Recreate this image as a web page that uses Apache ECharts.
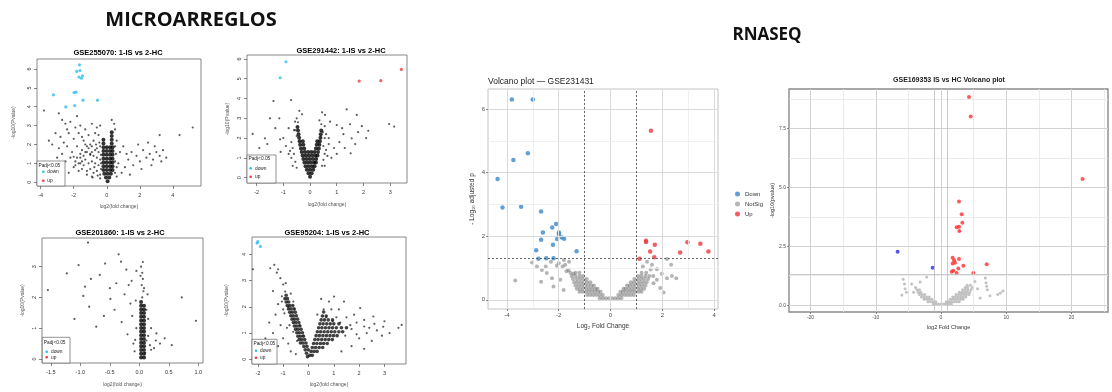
<!DOCTYPE html>
<html><head><meta charset="utf-8">
<script src="https://cdn.jsdelivr.net/npm/echarts@6/dist/echarts.min.js"></script>
<style>html,body{margin:0;padding:0;background:#fff}#c{width:1112px;height:392px}</style>
</head><body><div id="c"></div>
<script>
// ================= DATA =================
const headingLeft = 'MICROARREGLOS';
const headingRight = 'RNASEQ';

// ---- Plot 1: GSE255070 ----
const p1Title = 'GSE255070: 1-IS vs 2-HC';
const p1XTicks = [-4, -2, 0, 2, 4];
const p1YTicks = [0, 1, 2, 3, 4, 5, 6];
const p1Down = [[-1.65,6.22],[-1.82,5.87],[-1.62,5.92],[-1.68,5.57],[-1.47,5.64],[-1.53,5.51],[-3.23,4.63],[-1.98,4.75],[-1.86,4.77],[-1.44,4.35],[-0.56,4.35],[-2.48,3.99],[-1.94,4.06]];
const p1Up = [];
const p1Ns = [[-3.8,3.8],[-2.9,3.65],[-2.7,3.3],[-2.5,3.1],[-3.1,2.6],[-2.8,2.4],[-2.2,3.2],[-1.8,3.5],[-1.6,3.0],[-1.3,2.8],[-0.9,3.1],[-0.6,2.9],[-3.3,2.0],[-2.9,1.8],[-2.6,2.1],[-2.3,2.6],[-2.0,2.3],[-1.7,2.6],[-1.4,2.2],[-1.1,2.5],[-0.8,2.2],[-0.5,2.5],[-3.0,1.3],[-2.7,1.5],[-2.4,1.9],[-2.1,1.6],[-1.8,1.9],[-1.5,1.7],[-1.2,1.9],[-0.9,1.6],[-0.6,1.8],[-3.4,1.0],[-2.5,1.1],[-2.2,1.3],[-1.9,1.1],[-1.6,1.3],[-2.0,0.8],[-1.7,0.6],[-1.4,0.9],[-2.3,0.5],[-1.2,0.4],[-0.9,0.3],[-2.6,0.7],[-1.5,2.4],[-1.0,2.0],[-0.7,2.6],[-0.4,3.0],[-2.4,2.8],[-1.9,2.9],[-3.5,2.2],[-1.3,1.6],[-1.0,1.45],[-1.6,1.0],[-2.0,1.35],
  [-0.4,0.4],[-0.6,0.6],[-0.8,0.5],[-1.0,0.7],[-0.5,0.9],[-0.7,1.0],[-0.9,1.1],[-1.1,1.0],[-1.3,1.2],[-1.5,1.1],[-0.4,1.2],[-0.6,1.3],[-0.8,1.4],[-1.0,1.5],[-1.2,1.6],[-1.4,1.4],[-1.6,1.5],[-1.8,1.3],[-0.5,1.6],[-0.7,1.7],[-0.9,1.9],[-0.4,1.9],[-0.35,0.7],[-0.35,1.0],[-0.55,0.35],[-0.75,0.8],[-1.2,0.6],[-1.5,0.7],[-1.7,1.0],[-1.9,0.9],[-0.35,1.45],[-0.45,2.1],[-0.65,2.0],[-1.1,1.8],[-1.3,2.0],[-0.85,0.25],[-0.4,0.2],[0.5,0.5],[0.6,0.8],[0.5,1.1],[0.55,1.5],[0.5,1.9],
  [0.6,2.2],[0.8,1.6],[1.0,1.9],[1.3,1.2],[1.5,1.6],[1.8,1.4],[2.0,1.1],[2.2,1.7],[2.4,1.3],[2.6,1.5],[2.8,1.2],[3.0,1.6],[3.2,1.4],[3.4,1.7],[3.6,1.3],[3.2,2.5],[4.4,2.5],[5.2,2.9],[0.7,1.0],[1.1,0.8],[1.6,0.9],[2.1,0.7],[2.7,0.9],[0.9,0.5],[1.4,0.4],[0.6,0.3],[1.9,2.0],[2.5,2.1],[0.5,2.8],[0.45,3.1],[0.3,3.3],[1.2,1.5],[2.9,1.9],[3.3,1.1]];
const p1Core = [[0.05,0.05],[-0.05,0.25],[0.15,0.25],[-0.15,0.45],[0.05,0.45],[0.25,0.45],
  [-0.2,0.65],[0,0.65],[0.2,0.65],[0.35,0.65],[-0.2,0.85],[0,0.85],[0.2,0.85],[0.35,0.85],
  [-0.2,1.05],[0,1.05],[0.2,1.05],[0.35,1.05],[-0.2,1.25],[0,1.25],[0.2,1.25],[0.35,1.25],
  [-0.2,1.45],[0,1.45],[0.2,1.45],[0.35,1.45],[-0.2,1.65],[0,1.65],[0.2,1.65],[0.35,1.65],
  [-0.2,1.85],[0,1.85],[0.2,1.85],[0.35,1.85],[-0.2,2.05],[0.3,2.05],[-0.2,2.25],[0.3,2.25],[0.3,2.45],[0.3,2.65]];

// ---- Plot 2: GSE291442 ----
const p2Title = 'GSE291442: 1-IS vs 2-HC';
const p2XTicks = [-2, -1, 0, 1, 2, 3];
const p2YTicks = [0, 1, 2, 3, 4, 5, 6];
const p2Down = [[-0.90,5.86],[-1.12,5.05]];
const p2Up = [[1.84,4.88],[2.65,4.90],[3.42,5.47]];
const p2Ns = [[-1.37,3.87],[-0.71,3.92],[-0.40,3.38],[-1.50,3.0],[-1.15,3.0],[-2.15,2.21],[-1.69,1.99],[-1.12,1.94],[-0.56,2.83],[1.37,3.45],[1.75,3.17],[0.56,3.17],[0.75,2.83],[1.0,2.66],[1.5,2.7],[1.94,2.6],[2.18,2.37],[1.25,2.2],[1.56,1.99],[1.69,1.7],[1.52,1.23],[2.96,2.71],[3.15,2.58],[0.7,2.0],[1.1,1.8],[-0.8,1.2],[-0.9,1.6],[-1.0,2.0],[0.8,1.0],[0.9,1.5],[1.0,1.2],[-0.6,2.4],[0.6,2.2],[-0.7,1.0],[-0.8,2.5],[-0.5,3.0],[0.6,1.4],[0.7,1.7],[0.55,2.6],[1.2,2.5],[1.3,1.5],[-1.6,1.7],[-1.3,2.5],[-1.1,1.3],[-0.65,0.6],[0.55,0.6],[-1.9,1.5],[2.1,2.0],[1.8,2.3],[-0.3,3.2],[0.35,2.9],[0.45,3.3],
  [-0.5,0.5],[-0.55,0.8],[-0.6,1.2],[-0.65,1.5],[-0.7,1.8],[-0.5,2.1],[-0.55,2.4],[0.45,0.6],[0.5,0.9],[0.55,1.2],[0.5,1.6],[0.55,2.0],[0.48,2.3],[-0.75,1.35],[0.65,1.1],[-0.45,2.8],[0.42,2.7]];
const p2Core = [[0,0.05],[-0.06,0.22],[0.06,0.22],[-0.12,0.4],[0,0.4],[0.12,0.4],
  [-0.17,0.58],[-0.05,0.58],[0.07,0.58],[0.17,0.58],[-0.21,0.76],[-0.09,0.76],[0.03,0.76],[0.15,0.76],[0.22,0.76],
  [-0.25,0.94],[-0.13,0.94],[-0.01,0.94],[0.11,0.94],[0.23,0.94],[-0.28,1.12],[-0.16,1.12],[-0.04,1.12],[0.08,1.12],[0.2,1.12],[0.28,1.12],
  [-0.31,1.3],[-0.19,1.3],[-0.07,1.3],[0.05,1.3],[0.17,1.3],[0.3,1.3],[-0.34,1.48],[-0.22,1.48],[0.22,1.48],[0.33,1.48],
  [-0.37,1.66],[-0.25,1.66],[0.25,1.66],[0.35,1.66],[-0.39,1.84],[-0.27,1.84],[0.27,1.84],[0.37,1.84],
  [-0.41,2.02],[0.39,2.02],[-0.43,2.2],[0.4,2.2],[-0.45,2.38],[0.42,2.38],[-0.47,2.56]];

// ---- Plot 3: GSE201860 ----
const p3Title = 'GSE201860: 1-IS vs 2-HC';
const p3XTicks = [-1.5, -1.0, -0.5, 0.0, 0.5, 1.0];
const p3YTicks = [0, 1, 2, 3];
const p3Down = [];
const p3Up = [];
const p3Ns = [[-0.87,3.78],[-1.03,3.05],[-1.55,2.24],[-0.92,2.35],[-0.82,2.6],[-0.49,1.95],[-0.31,3.16],[-0.13,2.54],[-0.05,2.86],[0.72,2.0],[0.96,1.24],[-0.73,1.05],[-0.6,1.4],[-0.07,0.62],[0.29,0.83],[0.43,0.67],[0.55,0.45],[-1.23,2.78],[-0.67,2.73],[-0.39,2.46],[-0.35,3.4],[-0.22,2.9],[-0.5,2.3],[-0.25,2.1],[-0.15,1.8],[-0.42,1.6],[-0.3,1.2],[-0.85,1.7],[-1.1,1.3],[-0.2,0.8],[-0.12,1.4],[0.2,1.0],[0.25,0.35],[0.35,0.5],[0.15,1.3],[0.12,0.6],[-0.18,2.4],[-0.58,3.1],[-0.95,2.05],
  [0.05,2.0],[0.07,2.2],[0.04,2.4],[0.06,2.6],[0.05,2.8],[0.03,3.0],[0.06,3.15],[0.08,2.3],[0.02,2.7],[0.1,0.2],[0.18,0.45],[-0.08,0.25],[-0.05,1.0],[0.15,0.75],[0.2,0.3],[0.28,0.6],[-0.1,0.5],[0.12,1.6],[-0.06,1.9],[0.14,2.1]];
const p3Core = [[0.03,0.05],[0.03,0.17],[0.03,0.29],[0.03,0.41],[0.03,0.53],[0.03,0.65],[0.03,0.77],[0.03,0.89],[0.03,1.01],[0.03,1.13],[0.03,1.25],[0.03,1.37],[0.03,1.49],[0.03,1.61],[0.03,1.73],[0.03,1.85],
  [0.08,0.05],[0.08,0.17],[0.08,0.29],[0.08,0.41],[0.08,0.53],[0.08,0.65],[0.08,0.77],[0.08,0.89],[0.08,1.01],[0.08,1.13],[0.08,1.25],[0.08,1.37],[0.08,1.49],[0.08,1.61],[0.08,1.73]];

// ---- Plot 4: GSE95204 ----
const p4Title = 'GSE95204: 1-IS vs 2-HC';
const p4XTicks = [-2, -1, 0, 1, 2, 3];
const p4YTicks = [0, 1, 2, 3, 4];
const p4Down = [[-2.03,4.43],[-2.0,4.48],[-1.9,4.3]];
const p4Up = [];
const p4Ns = [[-2.19,3.43],[-1.51,3.47],[-1.2,3.43],[-1.35,3.6],[-1.25,3.3],[-1.11,3.09],[-1.0,2.85],[-0.92,2.58],[-1.05,2.4],[-1.2,2.1],[-0.8,2.0],[-0.95,1.75],[-1.3,1.7],[-1.55,1.4],[-1.1,1.3],[-0.85,1.2],[-1.4,1.0],[-1.0,0.8],[-0.8,0.6],[-1.7,0.8],[-2.0,0.5],[-0.6,2.2],[-1.4,2.6],[-0.7,0.3],[-0.5,0.2],[-1.2,0.5],
  [0.81,2.2],[1.01,2.39],[0.9,1.9],[0.7,1.6],[1.2,1.9],[1.5,1.6],[2.04,1.95],[1.8,1.7],[2.2,1.5],[2.56,1.63],[2.95,1.24],[3.55,1.2],[3.68,1.31],[2.7,1.1],[2.4,1.2],[2.0,0.8],[2.5,0.7],[1.7,0.5],[1.3,0.3],[2.9,0.9],[1.9,1.4],[1.1,1.6],[0.6,1.9],[0.5,2.3],[1.4,2.2],[3.2,1.0],[2.2,0.4],[1.65,1.3],[2.3,1.0],[0.35,1.7],[1.7,1.15],[1.9,0.95],[2.2,1.25],[1.45,0.9],[1.25,1.4],[0.95,1.45],[2.6,1.35],[3.0,1.45],[-1.05,2.2],[-0.9,2.9],
  [-0.35,1.3],[-0.55,1.9],[-0.7,2.5],[-0.2,0.9],[-0.45,0.7],[-0.75,1.3],[-1.0,1.9],[-0.6,1.05]];
const p4Core = [[-0.04,0.1],[-0.08,0.23],[-0.13,0.36],[-0.18,0.49],[-0.22,0.62],[-0.27,0.75],[-0.32,0.88],[-0.36,1.01],[-0.41,1.14],[-0.46,1.27],[-0.5,1.4],[-0.55,1.53],[-0.6,1.66],[-0.64,1.79],[-0.69,1.92],[-0.74,2.05],[-0.78,2.18],[-0.83,2.31],[-0.88,2.44],
  [-0.01,0.36],[-0.06,0.49],[-0.1,0.62],[-0.15,0.75],[-0.2,0.88],[-0.24,1.01],[-0.29,1.14],[-0.34,1.27],[-0.38,1.4],[-0.43,1.53],[-0.48,1.66],[-0.52,1.79],[-0.57,1.92],[-0.62,2.05],
  [-0.32,0.62],[-0.37,0.75],[-0.42,0.88],[-0.46,1.01],[-0.51,1.14],[-0.56,1.27],[-0.6,1.4],[-0.65,1.53],[-0.7,1.66],[-0.74,1.79],[-0.79,1.92],[-0.84,2.05],[-0.88,2.18],[-0.93,2.31],
  [0.05,0.15],[0.15,0.15],[0.1,0.3],[0.22,0.3],[0.34,0.3],[0.15,0.45],[0.28,0.45],[0.42,0.45],[0.56,0.45],
  [0.2,0.6],[0.33,0.6],[0.47,0.6],[0.6,0.6],[0.74,0.6],[0.25,0.75],[0.38,0.75],[0.52,0.75],[0.66,0.75],[0.8,0.75],[0.94,0.75],
  [0.3,0.9],[0.43,0.9],[0.57,0.9],[0.71,0.9],[0.85,0.9],[0.99,0.9],[1.13,0.9],[0.35,1.05],[0.48,1.05],[0.62,1.05],[0.76,1.05],[0.9,1.05],[1.04,1.05],[1.2,1.05],[1.35,1.05],
  [0.4,1.2],[0.53,1.2],[0.67,1.2],[0.81,1.2],[0.95,1.2],[1.1,1.2],[1.3,1.2],[1.5,1.2],[0.45,1.35],[0.58,1.35],[0.72,1.35],[0.86,1.35],[1.0,1.35],[1.2,1.35],
  [0.5,1.5],[0.63,1.5],[0.78,1.5],[0.95,1.5],[0.55,1.65],[0.7,1.65],[0.6,1.8]];

// ---- Plot 5: GSE231431 (ggplot) ----
const p5Title = 'Volcano plot — GSE231431';
const p5XTicks = [-4, -2, 0, 2, 4];
const p5XMinor = [-3, -1, 1, 3];
const p5YTicks = [0, 2, 4, 6];
const p5YMinor = [1, 3, 5];
const p5FcCut = [-1, 1];
const p5PCut = [1.301];
const p5Down = [[-3.81,6.30],[-3.0,6.30],[-3.19,4.61],[-3.75,4.40],[-4.36,3.80],[-4.17,2.90],[-3.45,2.93],[-2.68,2.78],[-2.61,2.12],[-2.68,1.89],[-2.25,2.27],[-2.10,2.38],[-1.99,2.12],[-1.99,2.06],[-2.06,1.91],[-1.88,1.96],[-1.79,1.92],[-2.22,1.73],[-2.87,1.56],[-2.78,1.29],[-2.48,1.31],[-2.20,1.31],[-1.31,1.53]];
const p5Up = [[1.56,5.32],[1.37,1.86],[1.37,1.82],[1.71,1.73],[1.53,1.52],[1.12,1.29],[1.69,1.34],[2.69,1.49],[2.97,1.81],[3.47,1.76],[3.78,1.52]];
const p5Ns = [[-3.68,0.61],[-2.68,0.57],[-2.20,0.42],[-3.03,1.17],[-2.84,1.05],[-2.65,0.94],[-2.46,0.84],[-2.26,0.68],[-2.07,1.07],[-1.75,1.1],[-1.62,0.94],[-1.43,0.82],[-1.94,0.63],[-1.81,0.31],[-1.6,1.2],[-1.8,1.25],[-2.3,1.2],[-2.5,1.05],[-1.7,0.9],[-1.85,1.05],[-2.0,1.15],
  [1.41,1.20],[2.18,1.28],[1.25,1.05],[1.60,1.10],[1.79,0.96],[1.98,0.82],[2.18,0.68],[2.37,0.75],[2.54,0.68],[2.34,1.10],[1.66,0.52],[1.92,0.37],[2.05,0.23],[1.79,0.63],[1.55,0.95],[1.65,0.75],
  [-0.42,0.05],[-0.3,0.05],[-0.18,0.05],[-0.06,0.05],[0.06,0.05],[0.18,0.05],[0.3,0.05],[0.42,0.05],
  [-0.9,0.15],[-0.78,0.15],[-0.66,0.15],[-0.54,0.15],[-0.42,0.15],[-0.3,0.15],[0.3,0.15],[0.42,0.15],[0.54,0.15],[0.66,0.15],[0.78,0.15],[0.9,0.15],
  [-1.2,0.25],[-1.08,0.25],[-0.96,0.25],[-0.84,0.25],[-0.72,0.25],[-0.6,0.25],[-0.48,0.25],[-0.38,0.25],[0.38,0.25],[0.48,0.25],[0.6,0.25],[0.72,0.25],[0.84,0.25],[0.96,0.25],[1.08,0.25],[1.2,0.25],
  [-1.3,0.35],[-1.18,0.35],[-1.06,0.35],[-0.94,0.35],[-0.82,0.35],[-0.7,0.35],[-0.58,0.35],[-0.5,0.35],[0.5,0.35],[0.58,0.35],[0.7,0.35],[0.82,0.35],[0.94,0.35],[1.06,0.35],[1.18,0.35],[1.3,0.35],
  [-1.35,0.45],[-1.22,0.45],[-1.1,0.45],[-0.98,0.45],[-0.86,0.45],[-0.74,0.45],[-0.64,0.45],[0.64,0.45],[0.74,0.45],[0.86,0.45],[0.98,0.45],[1.1,0.45],[1.22,0.45],[1.35,0.45],
  [-1.4,0.55],[-1.27,0.55],[-1.14,0.55],[-1.02,0.55],[-0.9,0.55],[-0.78,0.55],[0.78,0.55],[0.9,0.55],[1.02,0.55],[1.14,0.55],[1.27,0.55],[1.4,0.55],
  [-1.45,0.65],[-1.3,0.65],[-1.17,0.65],[-1.04,0.65],[-0.92,0.65],[0.92,0.65],[1.04,0.65],[1.17,0.65],[1.3,0.65],[1.45,0.65],
  [-1.5,0.75],[-1.35,0.75],[-1.2,0.75],[-1.07,0.75],[1.07,0.75],[1.2,0.75],[1.35,0.75],[1.5,0.75],
  [-1.55,0.85],[-1.35,0.85],[-1.2,0.85],[1.2,0.85],[1.38,0.85]];

// ---- Plot 6: GSE169353 (ggplot) ----
const p6Title = 'GSE169353 IS vs HC Volcano plot';
const p6XTicks = [-20, -10, 0, 10, 20];
const p6XMinor = [-15, -5, 5, 15, 25];
const p6YTicks = [0, 2.5, 5, 7.5];
const p6YMinor = [1.25, 3.75, 6.25, 8.75];
const p6FcCut = [-1, 1];
const p6PCut = [1.301];
const p6Down = [[-6.65,2.27],[-1.28,1.59]];
const p6Up = [[4.29,8.84],[4.55,8.01],[21.7,5.36],[2.76,4.40],[3.17,3.86],[3.27,3.50],[2.40,3.31],[2.76,3.33],[2.81,3.15],[1.79,2.01],[2.0,1.91],[2.76,1.96],[2.15,1.80],[1.79,1.77],[3.42,1.67],[7.0,1.74],[2.66,1.56],[1.89,1.46],[2.40,1.37],[4.96,1.37],[1.64,1.42]];
const p6Ns = [[-1.2,0.05],[-0.8,0.05],[-0.4,0.05],[0,0.05],[0.4,0.05],[0.8,0.05],[1.2,0.05],[1.6,0.05],
  [-2.0,0.15],[-1.6,0.15],[-1.2,0.15],[-0.8,0.15],[0.8,0.15],[1.2,0.15],[1.6,0.15],[2.0,0.15],[2.4,0.15],[2.8,0.15],
  [-2.6,0.25],[-2.2,0.25],[-1.8,0.25],[-1.4,0.25],[1.4,0.25],[1.8,0.25],[2.2,0.25],[2.6,0.25],[3.0,0.25],[3.4,0.25],
  [-3.0,0.35],[-2.6,0.35],[-2.2,0.35],[-1.8,0.35],[1.8,0.35],[2.2,0.35],[2.6,0.35],[3.0,0.35],[3.4,0.35],[3.8,0.35],
  [-3.3,0.45],[-2.9,0.45],[-2.5,0.45],[2.3,0.45],[2.7,0.45],[3.1,0.45],[3.5,0.45],[3.9,0.45],[4.3,0.45],
  [-3.5,0.55],[-3.1,0.55],[2.8,0.55],[3.2,0.55],[3.6,0.55],[4.0,0.55],[4.4,0.55],
  [-3.7,0.65],[-3.3,0.65],[3.3,0.65],[3.7,0.65],[4.1,0.65],[4.6,0.65],
  [-3.9,0.75],[3.7,0.75],[4.1,0.75],[4.8,0.75],[4.0,0.85],[4.5,0.85],
  [-5.8,1.1],[-5.6,0.9],[-5.5,0.7],[-5.3,0.55],[-6.0,0.43],[-2.2,1.2],[-3.2,0.98],[-4.5,0.9],[-4.2,0.55],[5.2,1.0],[5.6,0.7],
  [6.8,1.15],[6.9,0.95],[7.0,0.8],[7.1,0.65],[8.7,0.45],[9.1,0.52],[9.5,0.6],[6,0.3],[7.5,0.4]];

// ================= CHART =================
const FONT = '"Liberation Sans", Arial, sans-serif';
const CYAN = '#2fbdf2', RED_R = '#ee3b3b';
const chart = echarts.init(document.getElementById('c'), null, {renderer: 'canvas'});

const grids = [
  {left: 37, top: 59, width: 164, height: 127},
  {left: 247, top: 55, width: 160, height: 128},
  {left: 42, top: 238, width: 161, height: 125},
  {left: 252, top: 237, width: 154, height: 127},
  {left: 488, top: 89, width: 230, height: 220},
  {left: 789, top: 89, width: 319, height: 223}
];
const rBorder = {show: true, borderColor: '#6a6a6a', borderWidth: 0.8, backgroundColor: 'transparent'};
const gridOpt = grids.map((g, i) => Object.assign({}, g, {containLabel: false, outerBoundsMode: 'none'},
  i < 4 ? rBorder : (i === 4 ? {show: true, borderColor: '#c4c4c4', borderWidth: 1, backgroundColor: '#fff'}
                              : {show: true, borderColor: '#8a8a8a', borderWidth: 1.4, backgroundColor: '#fff'})));

function rX(gi, min, max, ticks, fmt, gap) {
  return {type: 'value', gridIndex: gi, min, max, axisLine: {show: false, onZero: false}, splitLine: {show: false},
    axisTick: {show: true, customValues: ticks, length: 3, lineStyle: {color: '#555', width: 0.7}},
    axisLabel: {customValues: ticks, formatter: fmt, fontSize: 5.5, color: '#333', margin: 6, fontFamily: FONT},
    name: 'log2(fold change)', nameLocation: 'middle', nameGap: gap,
    nameTextStyle: {fontSize: 5, color: '#555', fontFamily: FONT}};
}
function rY(gi, min, max, ticks, gap) {
  return {type: 'value', gridIndex: gi, min, max, axisLine: {show: false, onZero: false}, splitLine: {show: false},
    axisTick: {show: true, customValues: ticks, length: 3, lineStyle: {color: '#555', width: 0.7}},
    axisLabel: {customValues: ticks, rotate: 90, fontSize: 5.5, color: '#333', margin: 5, fontFamily: FONT},
    name: '-log10(Pvalue)', nameLocation: 'middle', nameGap: gap,
    nameTextStyle: {fontSize: 5, color: '#555', fontFamily: FONT}};
}
function gAxis(gi, min, max, ticks, fmt, name, gap, fs) {
  return {type: 'value', gridIndex: gi, min, max, axisLine: {show: false, onZero: false}, splitLine: {show: false},
    axisTick: {show: true, customValues: ticks, length: 2, lineStyle: {color: '#444', width: 0.6}},
    axisLabel: {customValues: ticks, formatter: fmt, fontSize: fs, color: '#4d4d4d', margin: 3, fontFamily: FONT},
    name, nameLocation: 'middle', nameGap: gap, nameTextStyle: {fontSize: fs + 0.5, color: '#333', fontFamily: FONT}};
}
const f0 = v => String(v);
const f1 = v => v.toFixed(1);

const xAxis = [
  rX(0, -4.22, 5.7, p1XTicks, f0, 18),
  rX(1, -2.36, 3.63, p2XTicks, f0, 19),
  rX(2, -1.65, 1.08, p3XTicks, f1, 19),
  rX(3, -2.23, 3.85, p4XTicks, f0, 18),
  gAxis(4, -4.73, 4.15, p5XTicks, f0, 'Log\u2082 Fold Change', 11, 6),
  gAxis(5, -23.3, 25.6, p6XTicks, f0, 'log2 Fold Change', 11, 5)
];
const yAxis = [
  rY(0, -0.2, 6.53, p1YTicks, 21),
  rY(1, -0.27, 6.2, p2YTicks, 17),
  rY(2, -0.13, 3.93, p3YTicks, 17),
  rY(3, -0.18, 4.66, p4YTicks, 23),
  gAxis(4, -0.29, 6.63, p5YTicks, f0, '- Log\u2081\u2080 adjusted p', 12, 6),
  gAxis(5, -0.29, 9.18, p6YTicks, f1, '-log10(pvalue)', 14, 5)
];

function sc(name, gi, data, size, color, z, extra) {
  return Object.assign({type: 'scatter', name, xAxisIndex: gi, yAxisIndex: gi, data, symbolSize: size,
    itemStyle: {color}, silent: true, z, animation: false}, extra || {});
}
function vLines(vals, style) { return vals.map(v => ({xAxis: v, lineStyle: style})); }
function hLines(vals, style) { return vals.map(v => ({yAxis: v, lineStyle: style})); }
function ml(data) {
  return {markLine: {silent: true, symbol: ['none', 'none'], label: {show: false}, animation: false, data}};
}

const gMaj5 = {color: '#dadada', width: 1, type: 'solid'};
const gMin5 = {color: '#ececec', width: 0.8, type: 'solid'};
const cut5 = {color: '#444', width: 0.8, type: [2, 2]};
const gMaj6 = {color: '#d2d2d2', width: 1, type: 'solid'};
const gMin6 = {color: '#e6e6e6', width: 0.8, type: 'solid'};
const cut6 = {color: '#bdbdbd', width: 0.8, type: 'solid'};
const NSC = 'rgba(0,0,0,0.8)';

const series = [
  sc('p1 ns', 0, p1Ns, 2.2, NSC, 2), sc('p1 core', 0, p1Core, 4, '#000', 2),
  sc('p1 down', 0, p1Down, 3.2, CYAN, 3), sc('p1 up', 0, p1Up, 3.2, RED_R, 3),
  sc('p2 ns', 1, p2Ns, 2.2, NSC, 2), sc('p2 core', 1, p2Core, 4, '#000', 2),
  sc('p2 down', 1, p2Down, 3.2, CYAN, 3), sc('p2 up', 1, p2Up, 3.2, RED_R, 3),
  sc('p3 ns', 2, p3Ns, 2.2, NSC, 2), sc('p3 core', 2, p3Core, 4, '#000', 2),
  sc('p3 down', 2, p3Down, 3.2, CYAN, 3), sc('p3 up', 2, p3Up, 3.2, RED_R, 3),
  sc('p4 ns', 3, p4Ns, 2.2, NSC, 2), sc('p4 core', 3, p4Core, 3.6, '#111', 2),
  sc('p4 down', 3, p4Down, 3.2, CYAN, 3), sc('p4 up', 3, p4Up, 3.2, RED_R, 3),
  sc('NotSig', 4, p5Ns, 4, 'rgba(100,100,100,0.6)', 2,
     ml([].concat(vLines(p5XTicks, gMaj5), vLines(p5XMinor, gMin5), hLines(p5YTicks, gMaj5), hLines(p5YMinor, gMin5)))),
  sc('Down', 4, p5Down, 4.5, '#3b88c9', 3, ml([].concat(vLines(p5FcCut, cut5), hLines(p5PCut, cut5)))),
  sc('Up', 4, p5Up, 4.5, '#e8393d', 3),
  sc('p6 ns', 5, p6Ns, 3, '#b3b3b3', 2,
     ml([].concat(vLines(p6XTicks, gMaj6), vLines(p6XMinor, gMin6), hLines(p6YTicks, gMaj6), hLines(p6YMinor, gMin6),
                  vLines(p6FcCut, cut6), hLines(p6PCut, cut6)))),
  sc('p6 down', 5, p6Down, 4, '#2a2af0', 3),
  sc('p6 up', 5, p6Up, 4, '#ff2f2f', 3)
];

function txt(x, y, text, font, fill, align) {
  const a = align || 'center';
  return {type: 'text', x, y, z: 100, silent: true,
    style: {text, font, fill: fill || '#000', align: a, verticalAlign: 'middle', textAlign: a, textVerticalAlign: 'middle'}};
}
function rLegend(x0, y0, w, h, ty, dy, uy, cx, tx) {
  const f = '4.8px ' + FONT;
  return [
    {type: 'rect', z: 99, silent: true, shape: {x: x0, y: y0, width: w, height: h}, style: {fill: '#fff', stroke: '#666', lineWidth: 0.7}},
    txt(x0 + 1.5, ty, 'Padj<0.05', f, '#222', 'left'),
    {type: 'circle', z: 100, silent: true, shape: {cx, cy: dy, r: 1.3}, style: {fill: CYAN}},
    txt(tx, dy, 'down', f, '#222', 'left'),
    {type: 'circle', z: 100, silent: true, shape: {cx, cy: uy, r: 1.3}, style: {fill: RED_R}},
    txt(tx, uy, 'up', f, '#222', 'left')
  ];
}
const rTitleFont = 'bold 7.5px ' + FONT;
const graphic = [].concat(
  [txt(191, 20, headingLeft, 'bold 20px "Open Sans", sans-serif', '#111'),
   txt(767, 35, headingRight, 'bold 17px "Open Sans", sans-serif', '#111'),
   txt(118, 53, p1Title, rTitleFont),
   txt(341, 50.5, p2Title, rTitleFont),
   txt(120, 232.5, p3Title, rTitleFont),
   txt(327, 232.5, p4Title, rTitleFont),
   txt(488, 82, p5Title, '8.5px ' + FONT, '#222', 'left'),
   txt(949, 80.5, p6Title, 'bold 7px ' + FONT, '#222')],
  rLegend(37, 161, 28, 25, 166, 171.7, 180.7, 43.3, 47.3),
  rLegend(247, 155, 29, 28, 159, 168.3, 176.7, 250.7, 255),
  rLegend(42.3, 337.3, 27.7, 25.7, 342.7, 351.7, 357.3, 46.7, 51),
  rLegend(252, 339.3, 25, 24.7, 344, 350.7, 357.7, 256, 260)
);

chart.setOption({
  animation: false,
  backgroundColor: '#fff',
  textStyle: {fontFamily: FONT},
  grid: gridOpt,
  xAxis, yAxis, series,
  legend: {data: ['Down', 'NotSig', 'Up'], orient: 'vertical', left: 730, top: 186, itemWidth: 5, itemHeight: 5, itemGap: 4,
    icon: 'circle', selectedMode: false, textStyle: {fontSize: 6, color: '#333', fontFamily: FONT}},
  graphic: {elements: graphic}
});
</script></body></html>
